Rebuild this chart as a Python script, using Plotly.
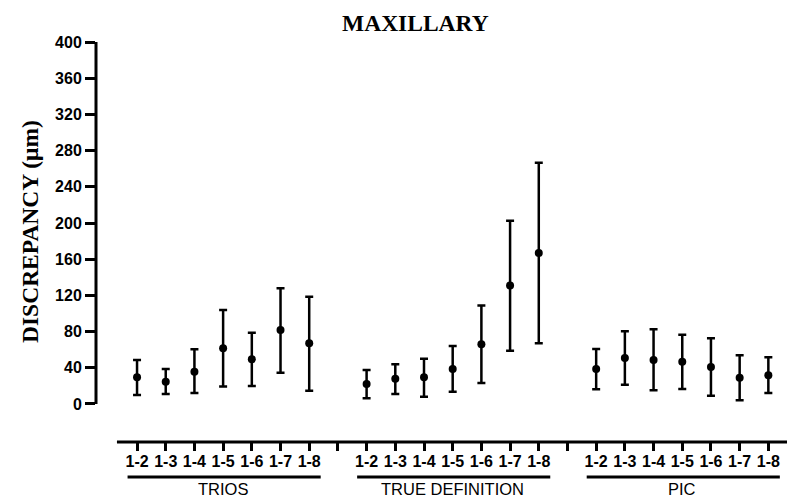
import plotly.graph_objects as go

groups = ["TRIOS", "TRUE DEFINITION", "PIC"]
pairs = ["1-2", "1-3", "1-4", "1-5", "1-6", "1-7", "1-8"]

trios_mean = [29.5, 24.7, 35.7, 61.5, 49.4, 81.8, 67.0]
trios_hi = [48.6, 38.7, 60.4, 103.9, 78.8, 127.8, 118.6]
trios_lo = [10.0, 11.0, 12.2, 19.2, 19.9, 34.6, 14.7]

td_mean = [22.1, 28.0, 29.5, 38.7, 65.9, 130.8, 166.9]
td_hi = [37.6, 43.8, 50.1, 64.1, 108.7, 202.6, 266.7]
td_lo = [6.3, 11.0, 8.1, 13.6, 23.2, 58.9, 67.0]

pic_mean = [38.7, 50.8, 48.6, 46.8, 40.9, 29.1, 31.7]
pic_hi = [60.8, 80.3, 82.5, 76.6, 72.6, 53.8, 51.6]
pic_lo = [16.2, 21.3, 15.1, 16.6, 9.2, 4.1, 12.2]

yticks = [0, 40, 80, 120, 160, 200, 240, 280, 320, 360, 400]

series = [(trios_mean, trios_hi, trios_lo), (td_mean, td_hi, td_lo), (pic_mean, pic_hi, pic_lo)]
n = len(pairs)
step = n + 1

fig = go.Figure()
tickvals, ticktext = [], []
for g, (m, hi, lo) in enumerate(series):
    xs = [g * step + i for i in range(n)]
    fig.add_trace(go.Scatter(
        x=xs, y=m, mode="markers",
        marker=dict(color="black", size=8),
        error_y=dict(type="data", symmetric=False,
                     array=[h - v for h, v in zip(hi, m)],
                     arrayminus=[v - l for v, l in zip(m, lo)],
                     color="black", thickness=2.5, width=4),
        showlegend=False, hoverinfo="skip"))
    tickvals += xs
    ticktext += pairs
    if g < len(series) - 1:
        tickvals.append(g * step + n)
        ticktext.append("")
    # group underline and label
    fig.add_shape(type="line", xref="x", yref="paper",
                  x0=xs[0] - 0.33, x1=xs[-1] + 0.4, y0=-0.0875, y1=-0.0875,
                  line=dict(color="black", width=3))
    fig.add_annotation(x=(xs[0] + xs[-1]) / 2, y=-0.1175, xref="x", yref="paper",
                       text=groups[g], showarrow=False, yanchor="middle",
                       font=dict(family="Liberation Sans, Arial", size=16.5, color="black"))

# broken axes lines (Prism style)
fig.add_shape(type="line", xref="paper", yref="y", x0=0, x1=0, y0=yticks[0], y1=yticks[-1],
              line=dict(color="black", width=3))
fig.add_shape(type="line", xref="x", yref="paper", x0=-0.7, x1=22.7, y0=0, y1=0,
              line=dict(color="black", width=3))

fig.add_annotation(text="MAXILLARY", xref="paper", yref="paper", x=0.463, y=1.0,
                   yshift=19, showarrow=False, yanchor="middle",
                   font=dict(family="Liberation Serif, Times New Roman", size=23.5, color="black", weight="bold"))
fig.add_annotation(text="DISCREPANCY (μm)", xref="paper", yref="paper", x=-0.0955, y=0.525,
                   textangle=-90, showarrow=False, xanchor="center", yanchor="middle",
                   font=dict(family="Liberation Serif, Times New Roman", size=23.5, color="black", weight="bold"))

fig.update_layout(
    width=787, height=501,
    margin=dict(l=96, r=0, t=42, b=59),
    plot_bgcolor="white", paper_bgcolor="white",
    xaxis=dict(range=[-1.43, 22.65], tickvals=tickvals, ticktext=ticktext,
               showline=False, showgrid=False, zeroline=False,
               ticks="outside", ticklen=8, tickwidth=2.5, tickcolor="black",
               ticklabelstandoff=-3,
               tickfont=dict(family="Liberation Sans, Arial", size=16, color="black", weight="bold")),
    yaxis=dict(range=[-42, 400], tickvals=yticks, showline=False, showgrid=False, zeroline=False,
               ticks="outside", ticklen=10, tickwidth=2.5, tickcolor="black",
               tickfont=dict(family="Liberation Sans, Arial", size=16, color="black", weight="bold")),
)

fig.write_html("out.html")
